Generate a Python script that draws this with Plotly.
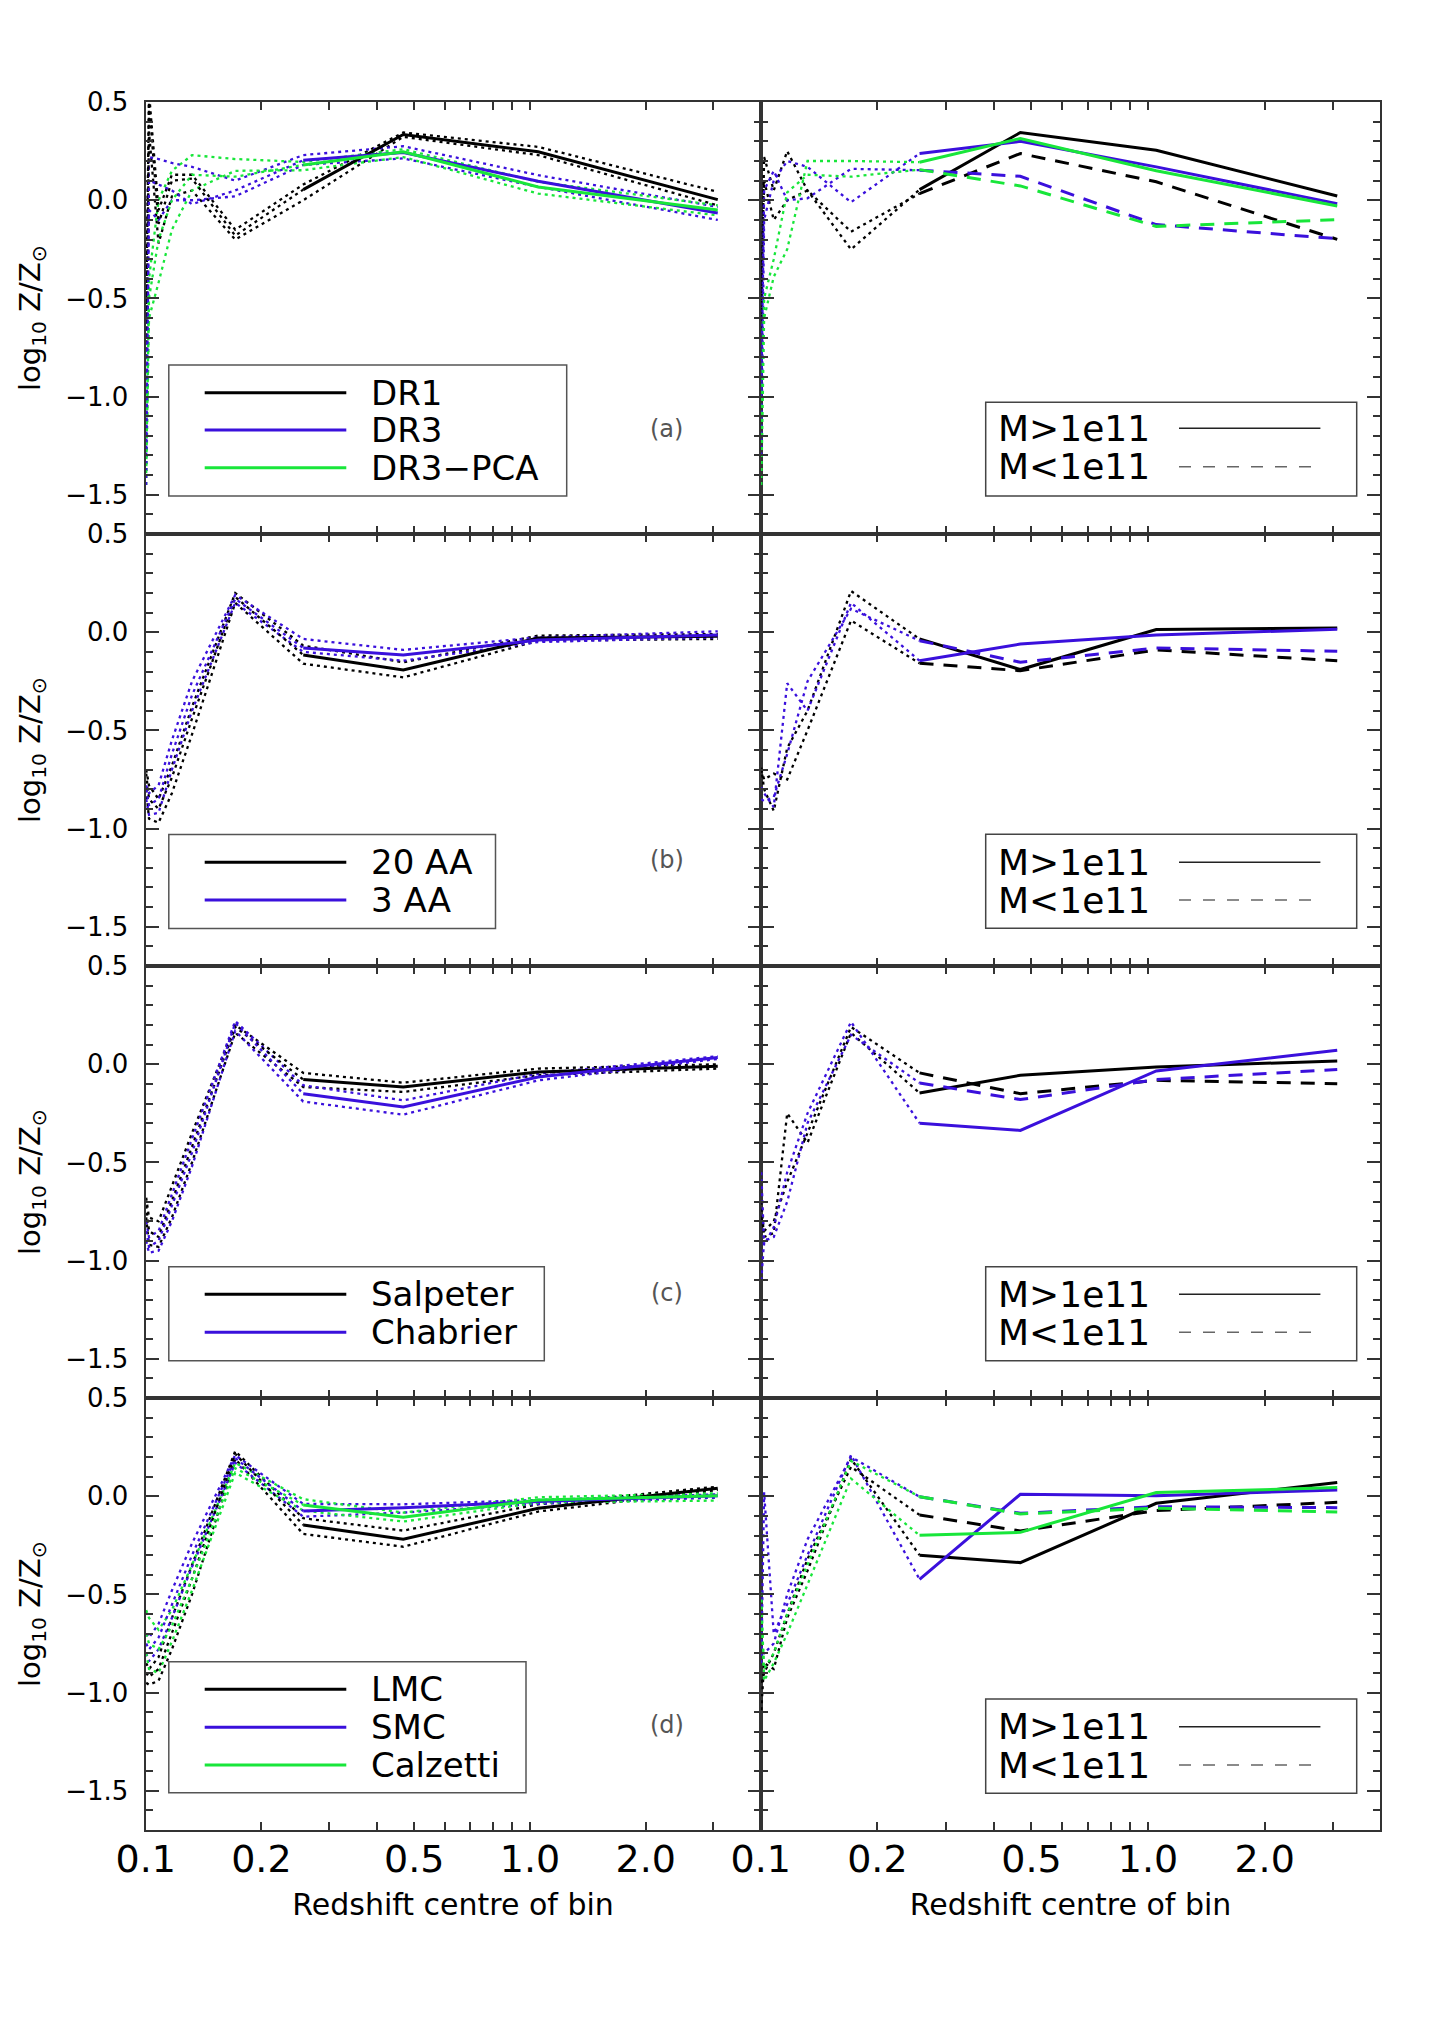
import math
import plotly.graph_objects as go
from plotly.subplots import make_subplots

# ---- data -------------------------------------------------------------
# bin centres on the (log) redshift axis
Z_BIN = [0.1003, 0.102, 0.108, 0.117, 0.132, 0.171, 0.257, 0.468, 1.05, 3.08]
FIRST_GOOD = 6  # bins before this one are drawn dotted

X_TICKS = [0.1, 0.2, 0.5, 1.0, 2.0]
X_TICK_TEXT = ["0.1", "0.2", "0.5", "1.0", "2.0"]
X_MINOR = [0.3, 0.4, 0.6, 0.7, 0.8, 0.9, 3.0]
Y_TICKS = [-1.5, -1.0, -0.5, 0.0, 0.5]
Y_TICK_TEXT = ["\u22121.5", "\u22121.0", "\u22120.5", "0.0", "0.5"]

# (a) left: data release
DR1_MID = [-0.70, 0.50, -0.12, 0.10, 0.11, -0.18, 0.054, 0.335, 0.247, 0.003]
DR1_HI = [-0.60, 0.55, -0.05, 0.13, 0.13, -0.15, 0.080, 0.345, 0.272, 0.043]
DR1_LO = [-0.80, 0.35, -0.22, 0.02, 0.05, -0.20, 0.000, 0.323, 0.230, -0.026]
DR3_MID = [-1.45, 0.10, 0.08, 0.05, -0.02, 0.05, 0.204, 0.243, 0.097, -0.065]
DR3_HI = [-1.20, 0.22, 0.21, 0.19, 0.17, 0.10, 0.230, 0.275, 0.128, -0.034]
DR3_LO = [-1.30, -0.05, -0.10, 0.00, 0.00, 0.02, 0.180, 0.213, 0.068, -0.100]
PCA_MID = [-1.39, -0.50, -0.20, 0.00, 0.13, 0.12, 0.180, 0.247, 0.068, -0.050]
PCA_HI = [-1.35, -0.40, 0.00, 0.15, 0.23, 0.21, 0.195, 0.260, 0.094, -0.026]
PCA_LO = [-1.45, -0.60, -0.42, -0.15, 0.05, 0.15, 0.153, 0.220, 0.034, -0.077]

# (a) right: mass split
A_BLACK_HI = [-0.60, 0.22, 0.05, 0.25, 0.05, -0.25, 0.054, 0.345, 0.255, 0.022]
A_BLACK_LO = [-0.65, 0.10, -0.10, 0.00, 0.05, -0.16, 0.034, 0.238, 0.094, -0.199]
A_BLUE_HI = [-1.30, -0.10, 0.10, 0.20, 0.17, -0.01, 0.238, 0.300, 0.170, -0.017]
A_BLUE_LO = [-1.00, 0.05, 0.15, 0.00, 0.01, 0.16, 0.153, 0.122, -0.124, -0.196]
A_GREEN_HI = [-1.45, -0.60, -0.39, -0.25, 0.20, 0.20, 0.194, 0.315, 0.150, -0.029]
A_GREEN_LO = [-1.20, -0.50, -0.30, 0.04, 0.13, 0.12, 0.156, 0.073, -0.133, -0.099]

# (b) left: resolution
AA20_MID = [-0.72, -0.85, -0.90, -0.74, -0.44, 0.18, -0.116, -0.192, -0.029, -0.020]
AA20_HI = [-0.70, -0.78, -0.85, -0.68, -0.38, 0.20, -0.068, -0.153, -0.017, -0.009]
AA20_LO = [-0.80, -0.95, -0.97, -0.82, -0.52, 0.15, -0.160, -0.230, -0.043, -0.034]
AA3_MID = [-0.80, -0.88, -0.85, -0.62, -0.32, 0.17, -0.080, -0.116, -0.040, -0.014]
AA3_HI = [-0.78, -0.82, -0.78, -0.55, -0.25, 0.19, -0.034, -0.090, -0.026, 0.005]
AA3_LO = [-0.85, -0.93, -0.92, -0.70, -0.40, 0.15, -0.100, -0.145, -0.050, -0.026]

# (b) right
B_BLACK_HI = [-0.69, -0.80, -0.91, -0.59, -0.40, 0.21, -0.034, -0.190, 0.014, 0.022]
B_BLACK_LO = [-0.70, -0.75, -0.72, -0.75, -0.50, 0.06, -0.158, -0.196, -0.090, -0.145]
B_BLUE_HI = [-0.79, -0.82, -0.89, -0.26, -0.40, 0.15, -0.145, -0.060, -0.014, 0.015]
B_BLUE_LO = [-0.85, -0.86, -0.84, -0.62, -0.25, 0.12, -0.043, -0.153, -0.080, -0.097]

# (c) left: IMF
SAL_MID = [-0.72, -0.85, -0.88, -0.70, -0.42, 0.19, -0.078, -0.116, -0.039, -0.010]
SAL_HI = [-0.68, -0.78, -0.80, -0.62, -0.35, 0.20, -0.044, -0.094, -0.022, 0.000]
SAL_LO = [-0.78, -0.92, -0.93, -0.78, -0.50, 0.16, -0.116, -0.141, -0.056, -0.022]
CHA_MID = [-0.85, -0.93, -0.90, -0.72, -0.45, 0.21, -0.150, -0.218, -0.065, 0.034]
CHA_HI = [-0.80, -0.88, -0.85, -0.66, -0.38, 0.22, -0.107, -0.184, -0.048, 0.041]
CHA_LO = [-0.90, -0.96, -0.95, -0.80, -0.52, 0.17, -0.190, -0.257, -0.082, 0.027]

# (c) right
C_BLACK_HI = [-0.70, -0.88, -0.86, -0.25, -0.40, 0.16, -0.146, -0.056, -0.014, 0.017]
C_BLACK_LO = [-0.78, -0.85, -0.80, -0.60, -0.35, 0.19, -0.044, -0.150, -0.082, -0.099]
C_BLUE_HI = [-0.55, -0.92, -0.83, -0.55, -0.25, 0.216, -0.300, -0.337, -0.034, 0.071]
C_BLUE_LO = [-1.10, -0.90, -0.88, -0.70, -0.30, 0.15, -0.095, -0.180, -0.078, -0.027]

# (d) left: dust
LMC_MID = [-0.90, -0.92, -0.88, -0.70, -0.42, 0.216, -0.146, -0.219, -0.061, 0.041]
LMC_HI = [-0.85, -0.88, -0.82, -0.62, -0.35, 0.23, -0.112, -0.175, -0.041, 0.049]
LMC_LO = [-0.95, -0.96, -0.94, -0.78, -0.50, 0.19, -0.192, -0.257, -0.078, 0.032]
SMC_MID = [-0.75, -0.78, -0.72, -0.55, -0.30, 0.194, -0.075, -0.058, -0.027, 0.002]
SMC_HI = [-0.70, -0.72, -0.65, -0.48, -0.24, 0.21, -0.039, -0.041, -0.019, 0.010]
SMC_LO = [-0.80, -0.84, -0.78, -0.62, -0.36, 0.17, -0.104, -0.083, -0.039, -0.007]
CAL_MID = [-0.70, -0.75, -0.78, -0.66, -0.42, 0.143, -0.044, -0.107, -0.019, 0.002]
CAL_HI = [-0.58, -0.62, -0.68, -0.58, -0.35, 0.17, -0.015, -0.083, -0.005, 0.015]
CAL_LO = [-0.80, -0.88, -0.90, -0.74, -0.48, 0.12, -0.073, -0.129, -0.032, -0.022]

# (d) right
D_BLACK_HI = [-1.09, -0.85, -0.88, -0.62, -0.38, 0.19, -0.300, -0.338, -0.036, 0.070]
D_BLACK_LO = [-0.95, -0.90, -0.80, -0.60, -0.32, 0.15, -0.095, -0.177, -0.073, -0.031]
D_BLUE_HI = [-0.85, 0.02, -0.70, -0.55, -0.30, 0.21, -0.423, 0.010, 0.003, 0.032]
D_BLUE_LO = [-0.80, -0.80, -0.75, -0.50, -0.22, 0.20, -0.002, -0.087, -0.053, -0.058]
D_GREEN_HI = [-0.49, -0.94, -0.85, -0.70, -0.45, 0.09, -0.199, -0.184, 0.019, 0.044]
D_GREEN_LO = [-0.60, -0.88, -0.80, -0.60, -0.35, 0.18, -0.002, -0.090, -0.061, -0.080]

# ---- style ------------------------------------------------------------
BLACK = "#000000"
BLUE = "#3a10dc"
GREEN = "#18e63a"
AXIS = "#333333"
DOT = "3px,4px"
DASH = "14px,10px"
FONT = "DejaVu Sans"

PAGE_PAD = 8  # default body margin of the html page
W, H = 1453 - PAGE_PAD, 2034 - PAGE_PAD


def fx(p):
    # window pixel -> paper fraction
    return (p - PAGE_PAD) / W


def fy(p):
    return 1 - (p - PAGE_PAD) / H


COL_EDGES = [145.5, 760.6, 1380.4]
ROW_EDGES = [102, 534, 966, 1398, 1830]

LEFT_PANELS = [
    (1, "(a)", [(BLACK, DR1_MID, DR1_HI, DR1_LO), (BLUE, DR3_MID, DR3_HI, DR3_LO),
                (GREEN, PCA_MID, PCA_HI, PCA_LO)]),
    (2, "(b)", [(BLACK, AA20_MID, AA20_HI, AA20_LO), (BLUE, AA3_MID, AA3_HI, AA3_LO)]),
    (3, "(c)", [(BLACK, SAL_MID, SAL_HI, SAL_LO), (BLUE, CHA_MID, CHA_HI, CHA_LO)]),
    (4, "(d)", [(BLACK, LMC_MID, LMC_HI, LMC_LO), (BLUE, SMC_MID, SMC_HI, SMC_LO),
                (GREEN, CAL_MID, CAL_HI, CAL_LO)]),
]
RIGHT_PANELS = [
    (1, [(BLACK, A_BLACK_HI, A_BLACK_LO), (BLUE, A_BLUE_HI, A_BLUE_LO), (GREEN, A_GREEN_HI, A_GREEN_LO)]),
    (2, [(BLACK, B_BLACK_HI, B_BLACK_LO), (BLUE, B_BLUE_HI, B_BLUE_LO)]),
    (3, [(BLACK, C_BLACK_HI, C_BLACK_LO), (BLUE, C_BLUE_HI, C_BLUE_LO)]),
    (4, [(BLACK, D_BLACK_HI, D_BLACK_LO), (BLUE, D_BLUE_HI, D_BLUE_LO), (GREEN, D_GREEN_HI, D_GREEN_LO)]),
]

# legend layout (pixel boxes) : box, row y positions, labels
LEFT_LEGENDS = [
    ((168.8, 365, 566.7, 496), [392.7, 430, 467.7], ["DR1", "DR3", "DR3\u2212PCA"], [BLACK, BLUE, GREEN]),
    ((168.8, 834.5, 495.5, 928.5), [862.3, 900], ["20 AA", "3 AA"], [BLACK, BLUE]),
    ((168.8, 1266.7, 544.3, 1360.7), [1294.3, 1332.3], ["Salpeter", "Chabrier"], [BLACK, BLUE]),
    ((168.8, 1661.7, 526, 1792.7), [1689.3, 1727.3, 1765], ["LMC", "SMC", "Calzetti"], [BLACK, BLUE, GREEN]),
]
RIGHT_LEGENDS = [
    ((985.7, 402.3, 1356.7, 496), [428.3, 466.7]),
    ((985.7, 834.3, 1356.7, 928.3), [862.3, 900]),
    ((985.7, 1266.7, 1356.7, 1360.7), [1294.3, 1332.3]),
    ((985.7, 1699, 1356.7, 1793.3), [1726.7, 1765]),
]
PANEL_TAG_Y = [429, 860, 1293.3, 1725]

fig = make_subplots(rows=4, cols=2, horizontal_spacing=0, vertical_spacing=0)


def add_series(y, color, row, col, main_dash):
    n = FIRST_GOOD + 1
    fig.add_trace(go.Scatter(x=Z_BIN[:n], y=y[:n], mode="lines",
                             line=dict(color=color, width=2.3, dash=DOT)), row=row, col=col)
    fig.add_trace(go.Scatter(x=Z_BIN[FIRST_GOOD:], y=y[FIRST_GOOD:], mode="lines",
                             line=dict(color=color, width=3, dash=main_dash)), row=row, col=col)


for row, tag, series in LEFT_PANELS:
    for color, mid, hi, lo in series:
        for bound in (hi, lo):
            fig.add_trace(go.Scatter(x=Z_BIN, y=bound, mode="lines",
                                     line=dict(color=color, width=2.3, dash=DOT)), row=row, col=1)
    for color, mid, hi, lo in series:
        add_series(mid, color, row, 1, "solid")

for row, series in RIGHT_PANELS:
    for color, hi, lo in series:
        add_series(lo, color, row, 2, DASH)
        add_series(hi, color, row, 2, "solid")

fig.update_traces(showlegend=False, hoverinfo="skip")

for col in (1, 2):
    for row in (1, 2, 3, 4):
        fig.update_xaxes(
            row=row, col=col, automargin=False,
            type="log", range=[-1.0005, 0.6],
            domain=[fx(COL_EDGES[col - 1]), fx(COL_EDGES[col])],
            showgrid=False, zeroline=False, showline=True, linecolor=AXIS, linewidth=2,
            mirror="allticks", ticks="inside", ticklen=8, tickwidth=1.5, tickcolor=AXIS,
            tickvals=X_TICKS, ticktext=X_TICK_TEXT,
            minor=dict(ticks="inside", ticklen=8, tickwidth=1.5, tickcolor=AXIS, tickvals=X_MINOR),
            showticklabels=(row == 4),
            tickfont=dict(family=FONT, size=38, color="black"),
            ticklabelstandoff=-6,
        )
        fig.update_yaxes(
            row=row, col=col, automargin=False,
            range=[-1.7, 0.5005],
            domain=[fy(ROW_EDGES[row]), fy(ROW_EDGES[row - 1])],
            showgrid=False, zeroline=False, showline=True, linecolor=AXIS, linewidth=2,
            mirror="allticks", ticks="inside", ticklen=13, tickwidth=1.5, tickcolor=AXIS,
            tickvals=Y_TICKS, ticktext=Y_TICK_TEXT,
            minor=dict(ticks="inside", ticklen=7, tickwidth=1.5, tickcolor=AXIS, dtick=0.1, tick0=0),
            showticklabels=(col == 1),
            tickfont=dict(family=FONT, size=26, color="black"),
            ticklabelstandoff=10,
        )
    fig.update_xaxes(row=4, col=col, title=dict(text="Redshift centre of bin",
                                                font=dict(family=FONT, size=30, color="black"),
                                                standoff=14))

shapes = []
annotations = []

# y-axis titles
for r in range(4):
    annotations.append(dict(
        x=fx(32), y=fy((ROW_EDGES[r] + ROW_EDGES[r + 1]) / 2), xref="paper", yref="paper",
        xanchor="center", yanchor="middle",
        text="log<sub>10</sub> Z/Z<sub>\u2299</sub>", textangle=-90, showarrow=False,
        font=dict(family=FONT, size=29, color="black")))

for (x0, y0, x1, y1), rows, labels, colors in LEFT_LEGENDS:
    shapes.append(dict(type="rect", xref="paper", yref="paper", x0=fx(x0), x1=fx(x1), y0=fy(y0), y1=fy(y1),
                       line=dict(color="#555555", width=1.5)))
    for yy, lab, c in zip(rows, labels, colors):
        shapes.append(dict(type="line", xref="paper", yref="paper", x0=fx(204.7), x1=fx(346.3),
                           y0=fy(yy), y1=fy(yy), line=dict(color=c, width=3)))
        annotations.append(dict(x=fx(369), y=fy(yy), xref="paper", yref="paper", text=lab,
                                xanchor="left", yanchor="middle", showarrow=False,
                                font=dict(family=FONT, size=34, color="black")))

for (x0, y0, x1, y1), rows in RIGHT_LEGENDS:
    shapes.append(dict(type="rect", xref="paper", yref="paper", x0=fx(x0), x1=fx(x1), y0=fy(y0), y1=fy(y1),
                       line=dict(color="#444444", width=1.5)))
    for yy, lab, c, d in zip(rows, ["M&gt;1e11", "M&lt;1e11"], ["#222222", "#666666"], ["solid", "12px,12px"]):
        shapes.append(dict(type="line", xref="paper", yref="paper", x0=fx(1179), x1=fx(1320.4),
                           y0=fy(yy), y1=fy(yy), line=dict(color=c, width=1.5, dash=d)))
        annotations.append(dict(x=fx(996), y=fy(yy), xref="paper", yref="paper", text=lab,
                                xanchor="left", yanchor="middle", showarrow=False,
                                font=dict(family=FONT, size=36, color="black")))

for (row, tag, _), yy in zip(LEFT_PANELS, PANEL_TAG_Y):
    annotations.append(dict(x=fx(666.7), y=fy(yy), xref="paper", yref="paper", text=tag,
                            xanchor="center", yanchor="middle",
                            showarrow=False, font=dict(family=FONT, size=24, color="#555555")))

fig.update_layout(
    width=W, height=H, autosize=False,
    margin=dict(l=0, r=0, t=0, b=0),
    paper_bgcolor="white", plot_bgcolor="white",
    font=dict(family=FONT, color="black"),
    shapes=shapes, annotations=annotations,
)

fig.write_html("out.html")
